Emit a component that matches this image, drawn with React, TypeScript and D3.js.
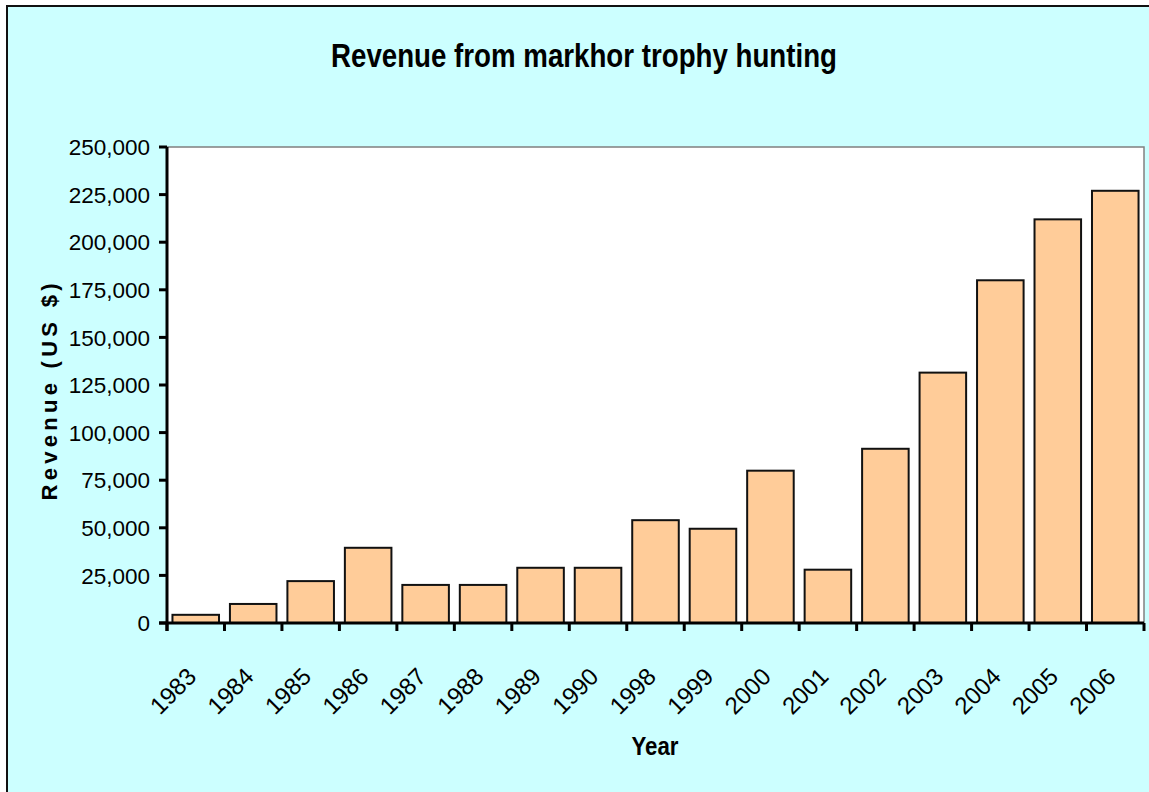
import React from 'react';
import * as d3 from 'd3';

const width = 1149;
const height = 792;
const margin = { top: 147, right: 5, bottom: 169, left: 167 };
const bg = '#ccffff';
const barFill = '#ffcc99';
const font = '"Liberation Sans", Arial, sans-serif';

// data
const years = ['1983', '1984', '1985', '1986', '1987', '1988', '1989', '1990', '1998', '1999', '2000', '2001', '2002', '2003', '2004', '2005', '2006'];
const revenue = [4300, 10000, 22000, 39500, 20000, 20000, 29000, 29000, 54000, 49500, 80000, 28000, 91500, 131500, 180000, 212000, 227000];
const yTicks = [0, 25000, 50000, 75000, 100000, 125000, 150000, 175000, 200000, 225000, 250000];

const App = () => {
	const x0 = margin.left;
	const x1 = width - margin.right;
	const y0 = height - margin.bottom;
	const y1 = margin.top;

	const xScale = d3.scaleBand<string>().domain(years).range([x0, x1]).paddingInner(0.19).paddingOuter(0.095);
	const yScale = d3.scaleLinear().domain([0, 250000]).range([y0, y1]);
	const fmt = d3.format(',');
	const step = xScale.step();
	const boundaries = d3.range(years.length + 1).map((i) => x0 + i * step);

	return (
		<svg width={width} height={height} style={{ position: 'absolute', left: 0, top: 0, display: 'block' }}>
			<rect x={0} y={0} width={width} height={height} fill="#fff" />
			<rect x={7} y={6} width={width + 20} height={height + 20} fill={bg} stroke="#111" strokeWidth={2} />

			{/* title */}
			<text x={584} y={67} textAnchor="middle" fontFamily={font} fontWeight="bold" fontSize={33} textLength={506} lengthAdjust="spacingAndGlyphs">
				Revenue from markhor trophy hunting
			</text>

			{/* plot area */}
			<rect x={x0} y={y1} width={x1 - x0} height={y0 - y1} fill="#fff" stroke="#808080" strokeWidth={1.5} />

			{/* bars */}
			{years.map((yr, i) => (
				<rect
					key={yr}
					x={xScale(yr)}
					y={yScale(revenue[i])}
					width={xScale.bandwidth()}
					height={y0 - yScale(revenue[i])}
					fill={barFill}
					stroke="#111"
					strokeWidth={2}
				/>
			))}

			{/* y axis */}
			<line x1={x0} x2={x0} y1={y1} y2={y0 + 8} stroke="#000" strokeWidth={3} />
			{yTicks.map((t) => (
				<g key={t}>
					<line x1={x0 - 8} x2={x0} y1={yScale(t)} y2={yScale(t)} stroke="#000" strokeWidth={3} />
					<text x={150} y={yScale(t)} dy="0.36em" textAnchor="end" fontFamily={font} fontSize={22.5}>
						{fmt(t)}
					</text>
				</g>
			))}

			{/* x axis */}
			<line x1={x0 - 8} x2={x1} y1={y0} y2={y0} stroke="#000" strokeWidth={3} />
			{boundaries.map((bx, i) => (
				<line key={i} x1={bx} x2={bx} y1={y0} y2={y0 + 8} stroke="#000" strokeWidth={3} />
			))}
			{years.map((yr) => {
				const cx = (xScale(yr) as number) + xScale.bandwidth() / 2 + 2;
				const cy = 678;
				return (
					<text key={yr} x={cx} y={cy} textAnchor="end" fontFamily={font} fontSize={24} transform={`rotate(-45, ${cx}, ${cy})`}>
						{yr}
					</text>
				);
			})}

			{/* axis titles */}
			<text x={655} y={755} textAnchor="middle" fontFamily={font} fontWeight="bold" fontSize={25} textLength={47} lengthAdjust="spacingAndGlyphs">
				Year
			</text>
			<text
				x={57}
				y={392}
				textAnchor="middle"
				fontFamily={font}
				fontWeight="bold"
				fontSize={22}
				textLength={217}
				lengthAdjust="spacing"
				transform="rotate(-90, 57, 392)"
			>
				Revenue (US $)
			</text>
		</svg>
	);
};

export default App;
